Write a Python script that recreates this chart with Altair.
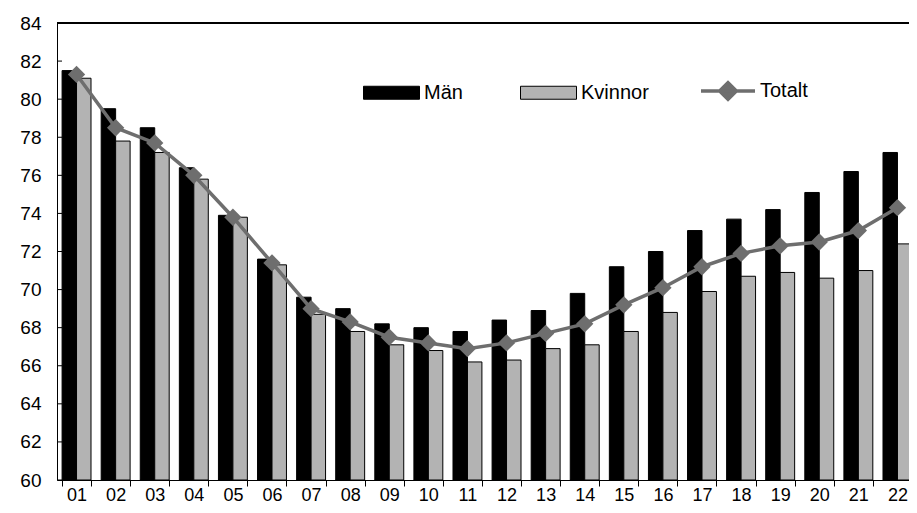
import altair as alt
import pandas as pd

years = ["01", "02", "03", "04", "05", "06", "07", "08", "09", "10", "11",
         "12", "13", "14", "15", "16", "17", "18", "19", "20", "21", "22"]
man = [81.5, 79.5, 78.5, 76.4, 73.9, 71.6, 69.6, 69.0, 68.2, 68.0, 67.8,
       68.4, 68.9, 69.8, 71.2, 72.0, 73.1, 73.7, 74.2, 75.1, 76.2, 77.2]
kvinnor = [81.1, 77.8, 77.2, 75.8, 73.8, 71.3, 68.7, 67.8, 67.1, 66.8, 66.2,
           66.3, 66.9, 67.1, 67.8, 68.8, 69.9, 70.7, 70.9, 70.6, 71.0, 72.4]
totalt = [81.3, 78.5, 77.7, 76.0, 73.8, 71.4, 69.0, 68.3, 67.5, 67.2, 66.9,
          67.2, 67.7, 68.2, 69.2, 70.1, 71.2, 71.9, 72.3, 72.5, 73.1, 74.3]
y_ticks = list(range(60, 85, 2))

FONT = "Liberation Sans"
LINE_COL = "#6e6e6e"
PLOT_W = 852      # visible plot width (chart is cut off at the right edge)
FULL_W = 860      # full band range, as in the original

bars_df = pd.DataFrame(
    [{"year": y, "serie": "Män", "value": v} for y, v in zip(years, man)]
    + [{"year": y, "serie": "Kvinnor", "value": v} for y, v in zip(years, kvinnor)]
)
line_df = pd.DataFrame({"year": years, "value": totalt, "serie": "Totalt"})
ticks_df = pd.DataFrame({"value": y_ticks})

x_scale = alt.Scale(domain=years, range=[0, FULL_W], paddingInner=0.26, paddingOuter=0.13)
y_scale = alt.Scale(domain=[60, 84], nice=False, zero=False)

x_axis = alt.Axis(title=None, labelAngle=0, labelFont=FONT, labelFontSize=18,
                  labelColor="black", domainColor="black", tickColor="black",
                  tickSize=6, tickBand="extent", labelPadding=14,
                  labelBaseline="alphabetic", grid=False, labelOverlap=False)
y_axis = alt.Axis(title=None, values=y_ticks, labelFont=FONT, labelFontSize=19,
                  labelColor="black", domainColor="black", ticks=False,
                  labelPadding=16, grid=False, labelOverlap=False)

bars = alt.Chart(bars_df).mark_bar(stroke="black", strokeWidth=1).encode(
    x=alt.X("year:N", scale=x_scale, axis=x_axis),
    xOffset=alt.XOffset("serie:N", sort=["Män", "Kvinnor"],
                        scale=alt.Scale(domain=["Män", "Kvinnor"], paddingInner=0, paddingOuter=0)),
    y=alt.Y("value:Q", scale=y_scale, axis=y_axis),
    y2=alt.datum(60),
    color=alt.Color("serie:N",
                    scale=alt.Scale(domain=["Män", "Kvinnor"], range=["#000000", "#b3b3b3"]),
                    legend=alt.Legend(title=None, orient="none", direction="horizontal",
                                      legendX=306, legendY=41, padding=0,
                                      symbolType="M-1,-0.232H1V0.232H-1Z", symbolSize=3136,
                                      symbolStrokeColor="black", symbolStrokeWidth=1,
                                      labelFont=FONT, labelFontSize=20, labelColor="black",
                                      labelOffset=4, columnPadding=55, labelLimit=200)),
)

line = alt.Chart(line_df).mark_line(
    strokeWidth=3.5,
    point=alt.OverlayMarkDef(shape="diamond", size=300, filled=True, color=LINE_COL),
).encode(
    x=alt.X("year:N", scale=x_scale, axis=x_axis),
    y=alt.Y("value:Q", scale=y_scale, axis=y_axis),
    color=alt.Color("serie:N",
                    scale=alt.Scale(domain=["Totalt"], range=[LINE_COL]),
                    legend=alt.Legend(title=None, orient="none", direction="horizontal",
                                      legendX=642, legendY=39, padding=0,
                                      symbolType="M-1,0H1M-0.31,0L0,-0.31L0.31,0L0,0.31Z",
                                      symbolSize=2916, symbolStrokeWidth=3.5,
                                      symbolFillColor=LINE_COL, symbolStrokeColor=LINE_COL,
                                      labelFont=FONT, labelFontSize=20, labelColor="black",
                                      labelOffset=3, labelLimit=200)),
)

inner_ticks = alt.Chart(ticks_df).mark_rule(color="black", strokeWidth=1).encode(
    x=alt.value(0), x2=alt.value(5),
    y=alt.Y("value:Q", scale=y_scale, axis=y_axis),
)

top_line = alt.Chart(ticks_df).mark_rule(color="black", strokeWidth=1).encode(
    x=alt.value(0), x2=alt.value(FULL_W), y=alt.value(0),
)

chart = alt.layer(bars, line, inner_ticks, top_line).resolve_scale(color="independent").properties(
    width=PLOT_W, height=457,
    autosize=alt.AutoSizeParams(type="none"),
    padding={"left": 49, "top": 15, "right": 0, "bottom": 25},
).configure_view(stroke=None).configure(background="white")

chart.save("out.html", embed_options={"renderer": "svg", "actions": False})
